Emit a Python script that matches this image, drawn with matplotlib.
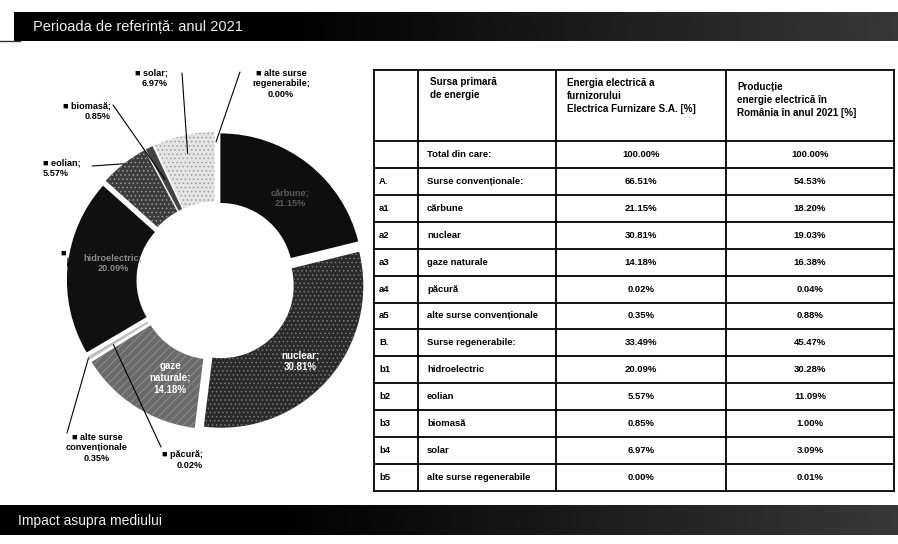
import numpy as np
import matplotlib
matplotlib.use("Agg")
import matplotlib.pyplot as plt

plt.rcParams["font.family"] = ["Liberation Sans", "DejaVu Sans"]
plt.rcParams["hatch.linewidth"] = 0.6

# ---- data ---------------------------------------------------------------
title_top = "Perioada de referință: anul 2021"
title_bottom = "Impact asupra mediului"

pie_labels = ["cărbune", "nuclear", "gaze naturale", "păcură",
              "alte surse convenționale", "hidroelectric", "eolian",
              "biomasă", "solar", "alte surse regenerabile"]
pie_values = [21.15, 30.81, 14.18, 0.02, 0.35, 20.09, 5.57, 0.85, 6.97, 0.00]

header = ["", "Sursa primară\nde energie",
          "Energia electrică a\nfurnizorului\nElectrica Furnizare S.A. [%]",
          "Producție\nenergie electrică în\nRomânia în anul 2021 [%]"]
codes = ["", "A.", "a1", "a2", "a3", "a4", "a5", "B.", "b1", "b2", "b3", "b4", "b5"]
sources = ["Total din care:", "Surse convenționale:", "cărbune", "nuclear",
           "gaze naturale", "păcură", "alte surse convenționale",
           "Surse regenerabile:", "hidroelectric", "eolian", "biomasă",
           "solar", "alte surse regenerabile"]
furnizor = ["100.00%", "66.51%", "21.15%", "30.81%", "14.18%", "0.02%", "0.35%",
            "33.49%", "20.09%", "5.57%", "0.85%", "6.97%", "0.00%"]
romania = ["100.00%", "54.53%", "18.20%", "19.03%", "16.38%", "0.04%", "0.88%",
           "45.47%", "30.28%", "11.09%", "1.00%", "3.09%", "0.01%"]

# wedge styles: (face, hatch, hatch colour)
styles = [("#0e0e0e", None, "#0e0e0e"),
          ("#2b2b2b", "....", "#7a7a7a"),
          ("#6a6a6a", "////", "#959595"),
          ("#555555", None, "#555555"),
          ("#bbbbbb", None, "#bbbbbb"),
          ("#101010", None, "#101010"),
          ("#3c3c3c", "....", "#9a9a9a"),
          ("#444444", None, "#444444"),
          ("#e4e4e4", "....", "#9c9c9c"),
          ("#cccccc", None, "#cccccc")]

W, H = 898, 544
fig = plt.figure(figsize=(W / 100, H / 100), dpi=100)

# background layer in pixel coordinates
bg = fig.add_axes([0, 0, 1, 1])
bg.set_xlim(0, W)
bg.set_ylim(H, 0)
bg.axis("off")

# header / footer bars
grad = np.linspace(0, 1, 300)[None, :]
grad = np.clip((grad - 0.3) / 0.7, 0, 1) * 0.22
bg.imshow(grad, extent=(14, W, 41, 12), cmap="gray", vmin=0, vmax=1,
          aspect="auto", zorder=1)
bg.imshow(grad, extent=(0, W, 535, 505), cmap="gray", vmin=0, vmax=1,
          aspect="auto", zorder=1)
bg.set_xlim(0, W)
bg.set_ylim(H, 0)
bg.plot([0, 20], [41, 41], color="#333333", lw=1)
bg.text(33, 27, title_top, color="#f0f0f0", fontsize=10.5, va="center", ha="left", zorder=2)
bg.text(18, 521, title_bottom, color="#f0f0f0", fontsize=10, va="center", ha="left", zorder=2)

# ---- table --------------------------------------------------------------
col_x = [374, 418, 556, 726, 894]
top_y, head_y, bottom_y = 70, 141, 491
row_h = (bottom_y - head_y) / len(codes)
row_y = [head_y + i * row_h for i in range(len(codes) + 1)]

for x in col_x:
    bg.plot([x, x], [top_y, bottom_y], color="black", lw=1.3)
for y in [top_y] + row_y:
    bg.plot([col_x[0], col_x[-1]], [y, y], color="black", lw=1.3)

tfs = 6.8
bg.text(col_x[1] + 12, 77, header[1], fontsize=tfs + 0.3, fontweight="bold", va="top", ha="left", linespacing=1.35)
bg.text(col_x[2] + 11, 78, header[2], fontsize=tfs + 0.3, fontweight="bold", va="top", ha="left", linespacing=1.35)
bg.text(col_x[3] + 11, 82, header[3], fontsize=tfs + 0.3, fontweight="bold", va="top", ha="left", linespacing=1.35)

for i in range(len(codes)):
    yc = (row_y[i] + row_y[i + 1]) / 2
    bg.text(col_x[0] + 5, yc, codes[i], fontsize=tfs, fontweight="bold", va="center", ha="left")
    bg.text(col_x[1] + 9, yc, sources[i], fontsize=tfs, fontweight="bold", va="center", ha="left")
    bg.text((col_x[2] + col_x[3]) / 2, yc, furnizor[i], fontsize=tfs, fontweight="bold", va="center", ha="center")
    bg.text((col_x[3] + col_x[4]) / 2, yc, romania[i], fontsize=tfs, fontweight="bold", va="center", ha="center")

# ---- donut --------------------------------------------------------------
CX, CY, R = 216, 281, 142
half = 200
ax = fig.add_axes([(CX - half) / W, (H - CY - half) / H, 2 * half / W, 2 * half / H])
lim = half / R
ax.axis("off")


def p2d(x, y):
    return ((x - CX) / R, (CY - y) / R)


wedges, _ = ax.pie(pie_values, explode=[0.05] * len(pie_values), startangle=90,
                   counterclock=False, radius=1,
                   wedgeprops=dict(width=0.49, linewidth=0))
ax.set_xlim(-lim, lim)
ax.set_ylim(-lim, lim)
ax.set_aspect("equal")
for w, (fc, hatch, hc) in zip(wedges, styles):
    w.set_facecolor(fc)
    w.set_edgecolor(hc)
    if hatch:
        w.set_hatch(hatch)


def anchor(i, rf):
    w = wedges[i]
    a = np.deg2rad((w.theta1 + w.theta2) / 2)
    return (w.center[0] + rf * np.cos(a), w.center[1] + rf * np.sin(a))


lfs = 6.6
# inside labels
ax.text(*p2d(290, 198), "cărbune;\n21.15%", color="#5a5a5a", fontsize=lfs, fontweight="bold", ha="center", va="center")
ax.text(*p2d(300, 361), "nuclear;\n30.81%", color="white", fontsize=lfs + 0.4, fontweight="bold", ha="center", va="center")
ax.text(*p2d(170, 378), "gaze\nnaturale;\n14.18%", color="white", fontsize=lfs + 0.4, fontweight="bold", ha="center", va="center")
ax.text(*p2d(113, 263), "hidroelectric;\n20.09%", color="#8a8a8a", fontsize=lfs, fontweight="bold", ha="center", va="center")

# outer labels with leader lines: (index, text, text pos, ha, line start, anchor radius)
outer = [
    (8, "■ solar;\n6.97%", (168, 78), "right", (182, 73), 0.87),
    (9, "■ alte surse\nregenerabile;\n0.00%", (281, 84), "center", (240, 72), 0.93),
    (7, "■ biomasă;\n0.85%", (111, 111), "right", (113, 105), 0.75),
    (6, "■ eolian;\n5.57%", (43, 168), "left", (92, 166), 1.0),
    (4, "■ alte surse\nconvenționale\n0.35%", (97, 448), "center", (67, 433), 1.0),
    (3, "■ păcură;\n0.02%", (203, 460), "right", (161, 447), 0.8),
]
for i, txt, (tx, ty), ha, (lx, ly), rf in outer:
    ax.text(*p2d(tx, ty), txt, fontsize=lfs, fontweight="bold", ha=ha, va="center",
            multialignment="center" if ha == "center" else ha, linespacing=1.2)
    ax.annotate("", xy=anchor(i, rf), xytext=p2d(lx, ly),
                arrowprops=dict(arrowstyle="-", lw=0.8, color="black",
                                shrinkA=0, shrinkB=0), annotation_clip=False)

ax.text(*p2d(63, 253), "■", fontsize=lfs, ha="center", va="center")
ax.annotate("", xy=anchor(5, 1.0), xytext=p2d(68, 258),
            arrowprops=dict(arrowstyle="-", lw=0.8, color="black", shrinkA=0, shrinkB=0))

fig.savefig("out.png", dpi=100)
